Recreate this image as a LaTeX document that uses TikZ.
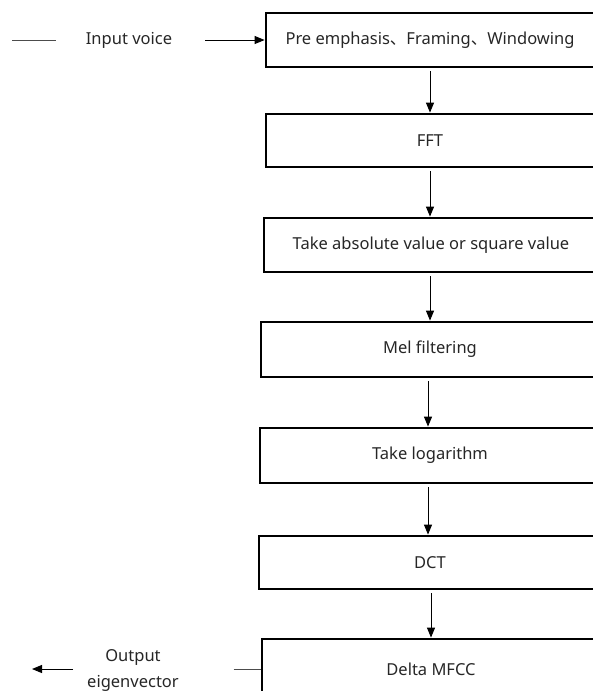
\documentclass[tikz,border=0pt]{standalone}
\usepackage{fontspec}
\setmainfont{Noto Sans}
\newfontfamily\cjk{Noto Sans CJK SC}
\usetikzlibrary{arrows.meta,calc}
\begin{document}
\begin{tikzpicture}[x=1pt,y=-1pt,
  txt/.style={font=\fontsize{16.5}{26}\selectfont,text=black!85},
  box/.style={draw,line width=2.8pt,minimum height=54pt,inner sep=0pt,txt},
  lbl/.style={inner sep=0pt,txt},
  arr/.style={line width=1pt,-{Triangle[length=10pt,width=8pt]}},
  plain/.style={line width=0.9pt,black!70},
]
\useasboundingbox (0,0) rectangle (593,691);
\clip (0,0) rectangle (593,691);

\node[box,minimum width=328pt] (b1) at (430,40) {Pre emphasis{\cjk 、}Framing{\cjk 、}Windowing};
\node[box,minimum width=328pt,minimum height=53pt] (b2) at (430,140.5) {FFT};
\node[box,minimum width=334pt] (b3) at (431,245) {Take absolute value or square value};
\node[box,minimum width=338pt,minimum height=55pt] (b4) at (430,349.5) {Mel filtering};
\node[box,minimum width=340pt,minimum height=55pt] (b5) at (430,455.5) {Take logarithm};
\node[box,minimum width=342pt,minimum height=53pt] (b6) at (430,562.5) {DCT};
\node[box,minimum width=338pt,minimum height=60pt] (b7) at (431,669) {Delta MFCC};

\draw[arr] ($(b1.south)+(0,3)$) -- (b1.south |- b2.north);
\draw[arr] ($(b2.south)+(0,3)$) -- (b2.south |- b3.north);
\draw[arr] ($(b3.south)+(-1,3)$) -- ($(b3.south |- b4.north)+(-1,0)$);
\draw[arr] ($(b4.south)+(-2,3)$) -- ($(b4.south |- b5.north)+(-2,0)$);
\draw[arr] ($(b5.south)+(-2,3)$) -- ($(b5.south |- b6.north)+(-2,0)$);
\draw[arr] ($(b6.south)+(1,3)$) -- ($(b6.south |- b7.north)+(1,0)$);

\node[lbl] (in) at (129,40) {Input voice};
\coordinate (l1) at (12,40);
\coordinate (l2) at (56,40);
\draw[plain] (l1) -- (l2);
\draw[arr] ([xshift=33pt]in.east) -- (b1.west);

\node[lbl,align=center] (out) at (133,670) {Output\\eigenvector};
\draw[plain] ([xshift=-27pt]b7.west) -- (b7.west);
\coordinate (o2) at (32,669);
\draw[arr] ([xshift=-14pt]out.west |- b7.west) -- (o2);
\end{tikzpicture}
\end{document}
